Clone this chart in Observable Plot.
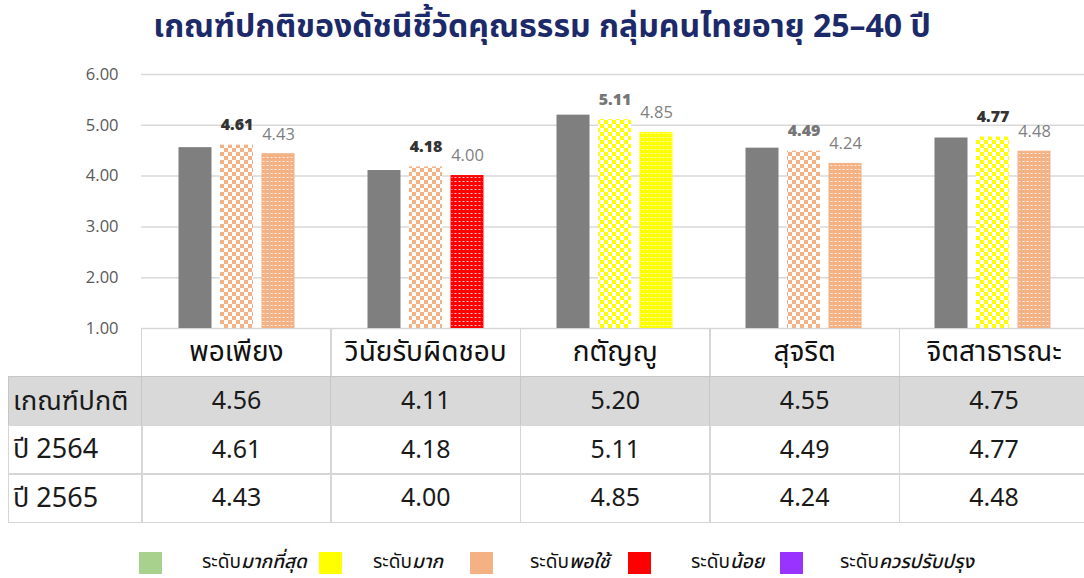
<!DOCTYPE html>
<html>
<head>
<meta charset="utf-8">
<script src="https://cdn.jsdelivr.net/npm/d3@7"></script>
<script src="https://cdn.jsdelivr.net/npm/@observablehq/plot@0.6"></script>
<style>
  html, body { margin: 0; padding: 0; background: #fff; width: 1084px; height: 578px; overflow: hidden; }
  body { position: relative; font-family: "Noto Sans Thai", "Noto Sans", "Open Sans", "DejaVu Sans", sans-serif; }
  #title { position: absolute; left: 0; top: 5px; width: 1084px; text-align: center; font-size: 32px; font-weight: 700; color: #1c2a6a; line-height: 44px; }
  #chart { position: absolute; left: 0; top: 60px; }
  .cell { position: absolute; box-sizing: border-box; border: 1.5px solid #d6d6d6; display: flex; align-items: center; justify-content: center; color: #1a1a1a; font-size: 25px; }
  .lab { justify-content: flex-start; padding-left: 4px; font-size: 27px; }
  .hdr { font-size: 28px; color: #111; }
  .norm { background: #d9d9d9; border-color: #c6c6c6; }
  .lg-sw { position: absolute; top: 552px; width: 23px; height: 22px; }
  .lg-tx { position: absolute; top: 549px; font-size: 19px; line-height: 28px; color: #111; white-space: nowrap; }
  .lg-tx i { font-style: italic; font-weight: 500; }
</style>
</head>
<body>
<svg width="0" height="0" style="position:absolute" id="defs-holder"><defs id="pdefs"></defs></svg>
<div id="title">เกณฑ์ปกติของดัชนีชี้วัดคุณธรรม กลุ่มคนไทยอายุ 25–40 ปี</div>
<div id="chart"></div>
<div id="table"></div>
<div id="legend"></div>
<script>
// ---- data ----
const categories = ["พอเพียง", "วินัยรับผิดชอบ", "กตัญญู", "สุจริต", "จิตสาธารณะ"];
const normValues = [4.56, 4.11, 5.20, 4.55, 4.75];
const values2564 = [4.61, 4.18, 5.11, 4.49, 4.77];
const values2565 = [4.43, 4.00, 4.85, 4.24, 4.48];
const level2564 = ["พอใช้", "พอใช้", "มาก", "พอใช้", "มาก"];
const level2565 = ["พอใช้", "น้อย", "มาก", "พอใช้", "พอใช้"];
const rowLabels = ["เกณฑ์ปกติ", "ปี 2564", "ปี 2565"];
const levels = ["มากที่สุด", "มาก", "พอใช้", "น้อย", "ควรปรับปรุง"];
const levelColors = ["#a9d18e", "#ffff00", "#f4b183", "#ff0000", "#9933ff"];
const yTicks = [1, 2, 3, 4, 5, 6];

// ---- patterns ----
const defs = document.getElementById("pdefs");
levels.forEach((lv, i) => {
  const c = levelColors[i];
  defs.insertAdjacentHTML("beforeend",
    `<pattern id="chk-${i}" patternUnits="userSpaceOnUse" width="8" height="8">
       <rect width="8" height="8" fill="#fff" shape-rendering="crispEdges"/>
       <rect width="4" height="4" fill="${c}" shape-rendering="crispEdges"/>
       <rect x="4" y="4" width="4" height="4" fill="${c}" shape-rendering="crispEdges"/>
     </pattern>
     <pattern id="dot-${i}" patternUnits="userSpaceOnUse" width="4" height="4">
       <rect width="4" height="4" fill="${c}" shape-rendering="crispEdges"/>
       <rect x="1" y="1" width="2" height="1" fill="#fff" fill-opacity="0.8" shape-rendering="crispEdges"/>
     </pattern>`);
});

const rows = categories.map((cat, i) => ({
  cat,
  norm: normValues[i],
  v64: values2564[i],
  v65: values2565[i],
  l64: levels.indexOf(level2564[i]),
  l65: levels.indexOf(level2565[i])
}));

const fontStack = '"Open Sans", "Noto Sans", sans-serif';
const inset = 78;
const off = 41.5;

const plot = Plot.plot({
  width: 1084,
  height: 282,
  marginLeft: 141,
  marginRight: 0,
  marginTop: 14,
  marginBottom: 14,
  style: { background: "transparent", fontFamily: fontStack, fontSize: "16.5px", color: "#595959" },
  x: { domain: categories, range: [141, 1088], padding: 0, axis: null },
  y: { domain: [1, 6], ticks: yTicks, tickFormat: d => d.toFixed(2), tickSize: 0, tickPadding: 23, label: null },
  color: { type: "identity" },
  marks: [
    Plot.ruleY(yTicks, { stroke: "#d9d9d9", strokeWidth: 1.5 }),
    Plot.barY(rows, { x: "cat", y1: 1, y2: "norm", fill: "#7f7f7f", dx: -off, insetLeft: inset, insetRight: inset }),
    Plot.barY(rows, { x: "cat", y1: 1, y2: "v64", fill: d => `url(#chk-${d.l64})`, insetLeft: inset, insetRight: inset }),
    Plot.barY(rows, { x: "cat", y1: 1, y2: "v65", fill: d => `url(#dot-${d.l65})`, stroke: d => levelColors[d.l65], strokeWidth: 1, dx: off, insetLeft: inset + 0.5, insetRight: inset + 0.5 }),
    Plot.text(rows, { x: "cat", y: "v64", text: d => d.v64.toFixed(2), dy: -20, fontSize: 16, fontWeight: 800,
      fill: d => d.v64 >= d.norm ? "#333333" : "#767676" }),
    Plot.text(rows, { x: "cat", y: "v65", text: d => d.v65.toFixed(2), dy: -20, dx: off, fontSize: 16.5, fill: "#7f7f7f" })
  ]
});
document.getElementById("chart").appendChild(plot);

// ---- table ----
const table = document.getElementById("table");
const colX = i => (i === 0 ? 8 : 141 + (i - 1) * 189.4);
const colW = i => (i === 0 ? 134.5 : 190.9);
const rowY = r => 328 + r * 48.4;
const rowH = 49.9;
function addCell(r, c, text, cls) {
  const d = document.createElement("div");
  d.className = "cell " + cls;
  d.style.left = colX(c) + "px";
  d.style.top = rowY(r) + "px";
  d.style.width = colW(c) + "px";
  d.style.height = rowH + "px";
  d.textContent = text;
  table.appendChild(d);
}
categories.forEach((c, i) => addCell(0, i + 1, c, "hdr"));
const tableRows = [normValues, values2564, values2565];
tableRows.forEach((vals, r) => {
  const cls = r === 0 ? "norm" : "";
  addCell(r + 1, 0, rowLabels[r], "lab " + cls);
  vals.forEach((v, i) => addCell(r + 1, i + 1, v.toFixed(2), cls));
});

// ---- legend ----
const legend = document.getElementById("legend");
const swX = [139, 319, 470, 628, 780];
const txX = [202, 373, 530, 691, 840];
levels.forEach((lv, i) => {
  legend.insertAdjacentHTML("beforeend",
    `<div class="lg-sw" style="left:${swX[i]}px;background:${levelColors[i]}"></div>
     <div class="lg-tx" style="left:${txX[i]}px">ระดับ<i>${lv}</i></div>`);
});
</script>
</body>
</html>
